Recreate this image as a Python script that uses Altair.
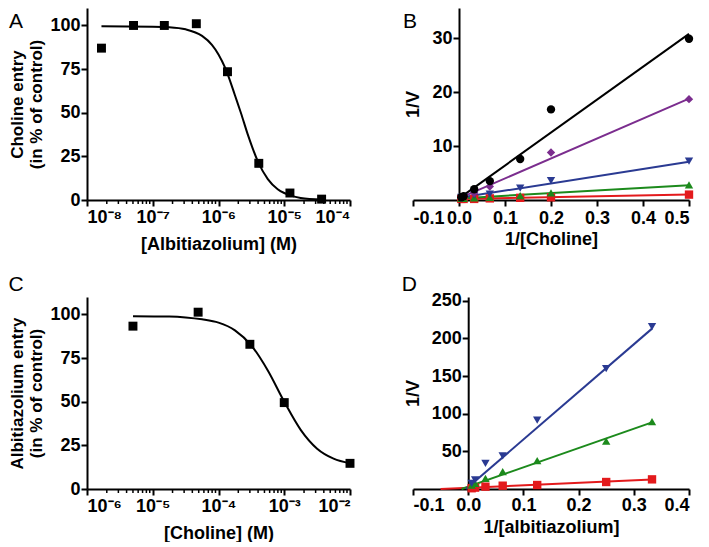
import altair as alt
import pandas as pd
import math

FONT = "Liberation Sans"

# ---------------- Panel A : choline entry vs albitiazolium ----------------
a_conc = [1.66e-8, 5.1e-8, 1.5e-7, 4.6e-7, 1.37e-6, 4.1e-6, 1.22e-5, 3.7e-5]
a_entry = [87, 100, 100, 101, 73.5, 21, 4, 0.5]
a_fit_log = [-7.78, -7.0, -6.75, -6.5, -6.25, -6.1, -6.0, -5.9, -5.85, -5.75, -5.66,
             -5.55, -5.4, -5.25, -5.1, -5.0, -4.9, -4.75, -4.43]
a_fit_val = [99.5, 99.3, 99.0, 97.8, 94.0, 88.9, 83.4, 75.8, 71.0, 60.0, 50.0,
             37.0, 22.0, 12.0, 6.2, 4.0, 2.5, 1.2, 0.3]
a_ticks = [1e-8, 1e-7, 1e-6, 1e-5, 1e-4]
a_tick_labels = ["10⁻⁸", "10⁻⁷", "10⁻⁶", "10⁻⁵", "10⁻⁴"]
a_minor = [m * 10.0 ** e for e in [-8, -7, -6, -5] for m in range(2, 10)]

# ---------------- Panel C : albitiazolium entry vs choline ----------------
c_conc = [5e-6, 4.9e-5, 3e-4, 1e-3, 1e-2]
c_entry = [93.3, 101.3, 82.9, 49.5, 14.7]
c_fit_log = [-5.3, -4.75, -4.5, -4.25, -4.0, -3.75, -3.5, -3.25, -3.0, -2.75, -2.5, -2.25, -2.0]
c_fit_val = [99.0, 98.8, 98.3, 97.2, 95.3, 90.9, 82.2, 67.9, 50.0, 33.9, 23.1, 17.4, 14.7]
c_ticks = [1e-6, 1e-5, 1e-4, 1e-3, 1e-2]
c_tick_labels = ["10⁻⁶", "10⁻⁵", "10⁻⁴", "10⁻³", "10⁻²"]
c_minor = [m * 10.0 ** e for e in [-6, -5, -4, -3] for m in range(2, 10)]

# ---------------- Panel B : 1/V vs 1/[Choline] ----------------
b_x = [0.005, 0.01, 0.033, 0.067, 0.133, 0.2, 0.5]
b_black = [0.5, 0.7, 2.0, 3.5, 7.6, 16.8, 29.9]
b_purple_x = [0.005, 0.01, 0.033, 0.067, 0.2, 0.5]
b_purple = [0.4, 0.6, 1.3, 2.5, 8.8, 18.7]
b_blue = [0.5, 0.6, 0.9, 1.1, 2.2, 3.6, 7.2]
b_green = [0.3, 0.3, 0.4, 0.5, 0.8, 1.3, 2.8]
b_red = [0.2, 0.2, 0.2, 0.3, 0.4, 0.5, 1.0]
b_line_x = [0.0, 0.5]
b_line_black = [0.3, 30.8]
b_line_purple = [0.3, 18.8]
b_line_blue = [0.4, 7.1]
b_line_green = [0.3, 2.75]
b_line_red = [0.2, 1.0]

# ---------------- Panel D : 1/V vs 1/[albitiazolium] ----------------
d_x = [0.00625, 0.0125, 0.03125, 0.0625, 0.125, 0.25, 0.333]
d_blue = [7.5, 12, 34, 44, 91.6, 160, 215.5]
d_green = [5, 7.5, 14.2, 23, 37.6, 63.7, 89.4]
d_red = [1.0, 1.8, 3.1, 4.4, 5.3, 9.3, 12.8]
d_line_blue_x = [-0.004, 0.333]
d_line_blue = [0, 213]
d_line_green_x = [-0.012, 0.333]
d_line_green = [0, 88.5]
d_line_red_x = [-0.05, 0.333]
d_line_red = [0, 12.6]

SERIES = ["red", "green", "blue", "purple", "black"]
COLORS = ["#e31a1c", "#1c8a1c", "#2a3a92", "#7b2d8e", "#000000"]
SHAPES = ["square", "triangle-up", "triangle-down", "diamond", "circle"]

color_enc = alt.Color("s:N", scale=alt.Scale(domain=SERIES, range=COLORS), legend=None)
shape_enc = alt.Shape("s:N", scale=alt.Scale(domain=SERIES, range=SHAPES), legend=None)


def long_df(pairs):
    rows = []
    for s, xs, ys in pairs:
        for i, (x, y) in enumerate(zip(xs, ys)):
            rows.append({"s": s, "x": x, "y": y, "o": i})
    return pd.DataFrame(rows)


def letter(t, x, y):
    return alt.Chart(pd.DataFrame({"t": [t]})).mark_text(
        font=FONT, fontSize=21, fontWeight="normal", color="black",
        align="center", baseline="top"
    ).encode(text="t:N", x=alt.value(x), y=alt.value(y))


def log_panel(conc, entry, fit_log, fit_val, ticks, tick_labels, minor, dom,
              xtitle, ytitle, W, H, let):
    xs = alt.Scale(type="log", domain=dom, nice=False)
    ys = alt.Scale(domain=[0, 110], nice=False)
    base_exp = int(round(math.log10(dom[0])))
    lab_expr = "[" + ",".join("'%s'" % t for t in tick_labels) + \
        "][round(log(datum.value)/LN10)-(%d)]" % base_exp
    x_axis = alt.Axis(values=ticks, labelExpr=lab_expr, title=xtitle, tickSize=6,
                      labelPadding=2, titlePadding=9, orient="bottom")
    y_axis = alt.Axis(values=[0, 25, 50, 75, 100], title=ytitle, tickSize=6,
                      labelPadding=1, titlePadding=4, titleLineHeight=19, titleFontSize=17)
    fit = alt.Chart(pd.DataFrame({"x": [10 ** v for v in fit_log], "y": fit_val})).mark_line(
        color="black", strokeWidth=2, interpolate="monotone"
    ).encode(x=alt.X("x:Q", scale=xs, axis=x_axis), y=alt.Y("y:Q", scale=ys, axis=y_axis))
    pts = alt.Chart(pd.DataFrame({"x": conc, "y": entry})).mark_point(
        shape="square", filled=True, size=80, color="black", opacity=1
    ).encode(x=alt.X("x:Q", scale=xs), y=alt.Y("y:Q", scale=ys))
    mn = alt.Chart(pd.DataFrame({"x": minor})).mark_rule(color="black", strokeWidth=1.5).encode(
        x=alt.X("x:Q", scale=xs), y=alt.value(H), y2=alt.value(H + 4))
    return alt.layer(fit, pts, mn, letter(*let)).properties(width=W, height=H)


def lin_panel(pts_df, line_df, xdom, ydom, xticks, yticks, xtitle, W, H, yoffset,
              xlabpad, xtitlepad, let):
    xs = alt.Scale(domain=xdom, nice=False)
    ys = alt.Scale(domain=ydom, nice=False)
    x_axis = alt.Axis(values=xticks, labelExpr="replace(format(datum.value,'.1f'),'\u2212','-')",
                      title=xtitle, tickSize=6, labelPadding=xlabpad, titlePadding=xtitlepad)
    y_axis = alt.Axis(values=yticks, title="1/V", offset=yoffset, tickSize=6,
                      labelPadding=1, titlePadding=9)
    lines = alt.Chart(line_df).mark_line(strokeWidth=2).encode(
        x=alt.X("x:Q", scale=xs, axis=x_axis), y=alt.Y("y:Q", scale=ys, axis=y_axis),
        color=color_enc, detail="s:N", order="o:Q")
    pts = alt.Chart(pts_df).mark_point(filled=True, size=70, opacity=1).encode(
        x=alt.X("x:Q", scale=xs), y=alt.Y("y:Q", scale=ys), color=color_enc, shape=shape_enc)
    return alt.layer(lines, pts, letter(*let)).properties(width=W, height=H)


WL, WR, H = 263, 276, 192

panel_a = log_panel(a_conc, a_entry, a_fit_log, a_fit_val, a_ticks, a_tick_labels, a_minor,
                    [1e-8, 1e-4], "[Albitiazolium] (M)", ["Choline entry", "(in % of control)"],
                    WL, H, ("A", -71, 3))
panel_c = log_panel(c_conc, c_entry, c_fit_log, c_fit_val, c_ticks, c_tick_labels, c_minor,
                    [1e-6, 1e-2], "[Choline] (M)", ["Albitiazolium entry", "(in % of control)"],
                    WL, H, ("C", -71, -23))

b_pts = long_df([("red", b_x, b_red), ("green", b_x, b_green), ("blue", b_x, b_blue),
                 ("purple", b_purple_x, b_purple), ("black", b_x, b_black)])
b_lines = long_df([("red", b_line_x, b_line_red), ("green", b_line_x, b_line_green),
                   ("blue", b_line_x, b_line_blue), ("purple", b_line_x, b_line_purple),
                   ("black", b_line_x, b_line_black)])
panel_b = lin_panel(b_pts, b_lines, [-0.1, 0.5], [0, 35.6], [-0.1, 0, 0.1, 0.2, 0.3, 0.4, 0.5],
                    [10, 20, 30], "1/[Choline]", WR, H, -WR / 6.0, 3, 3, ("B", -3, 3))

d_pts = long_df([("red", d_x, d_red), ("green", d_x, d_green), ("blue", d_x, d_blue)])
d_lines = long_df([("red", d_line_red_x, d_line_red), ("green", d_line_green_x, d_line_green),
                   ("blue", d_line_blue_x, d_line_blue)])
panel_d = lin_panel(d_pts, d_lines, [-0.1, 0.4], [0, 255], [-0.1, 0, 0.1, 0.2, 0.3, 0.4],
                    [50, 100, 150, 200, 250], "1/[albitiazolium]", WR, H, -WR / 5.0, 1, 4,
                    ("D", -3.7, -23))

chart = alt.ConcatChart(
    concat=[panel_a, panel_b, panel_c, panel_d], columns=2,
    spacing={"row": 97, "column": 63}, bounds="flush"
).properties(
    padding={"left": 0, "top": 0, "right": 0, "bottom": 0}
).configure_view(stroke=None).configure_axis(
    domainColor="black", domainWidth=2, tickColor="black", tickWidth=2, grid=False,
    labelFont=FONT, labelFontWeight="bold", labelFontSize=18, labelColor="black",
    titleFont=FONT, titleFontWeight="bold", titleFontSize=18, titleColor="black"
)

chart.save("out.html", embed_options={"renderer": "svg", "actions": False})
